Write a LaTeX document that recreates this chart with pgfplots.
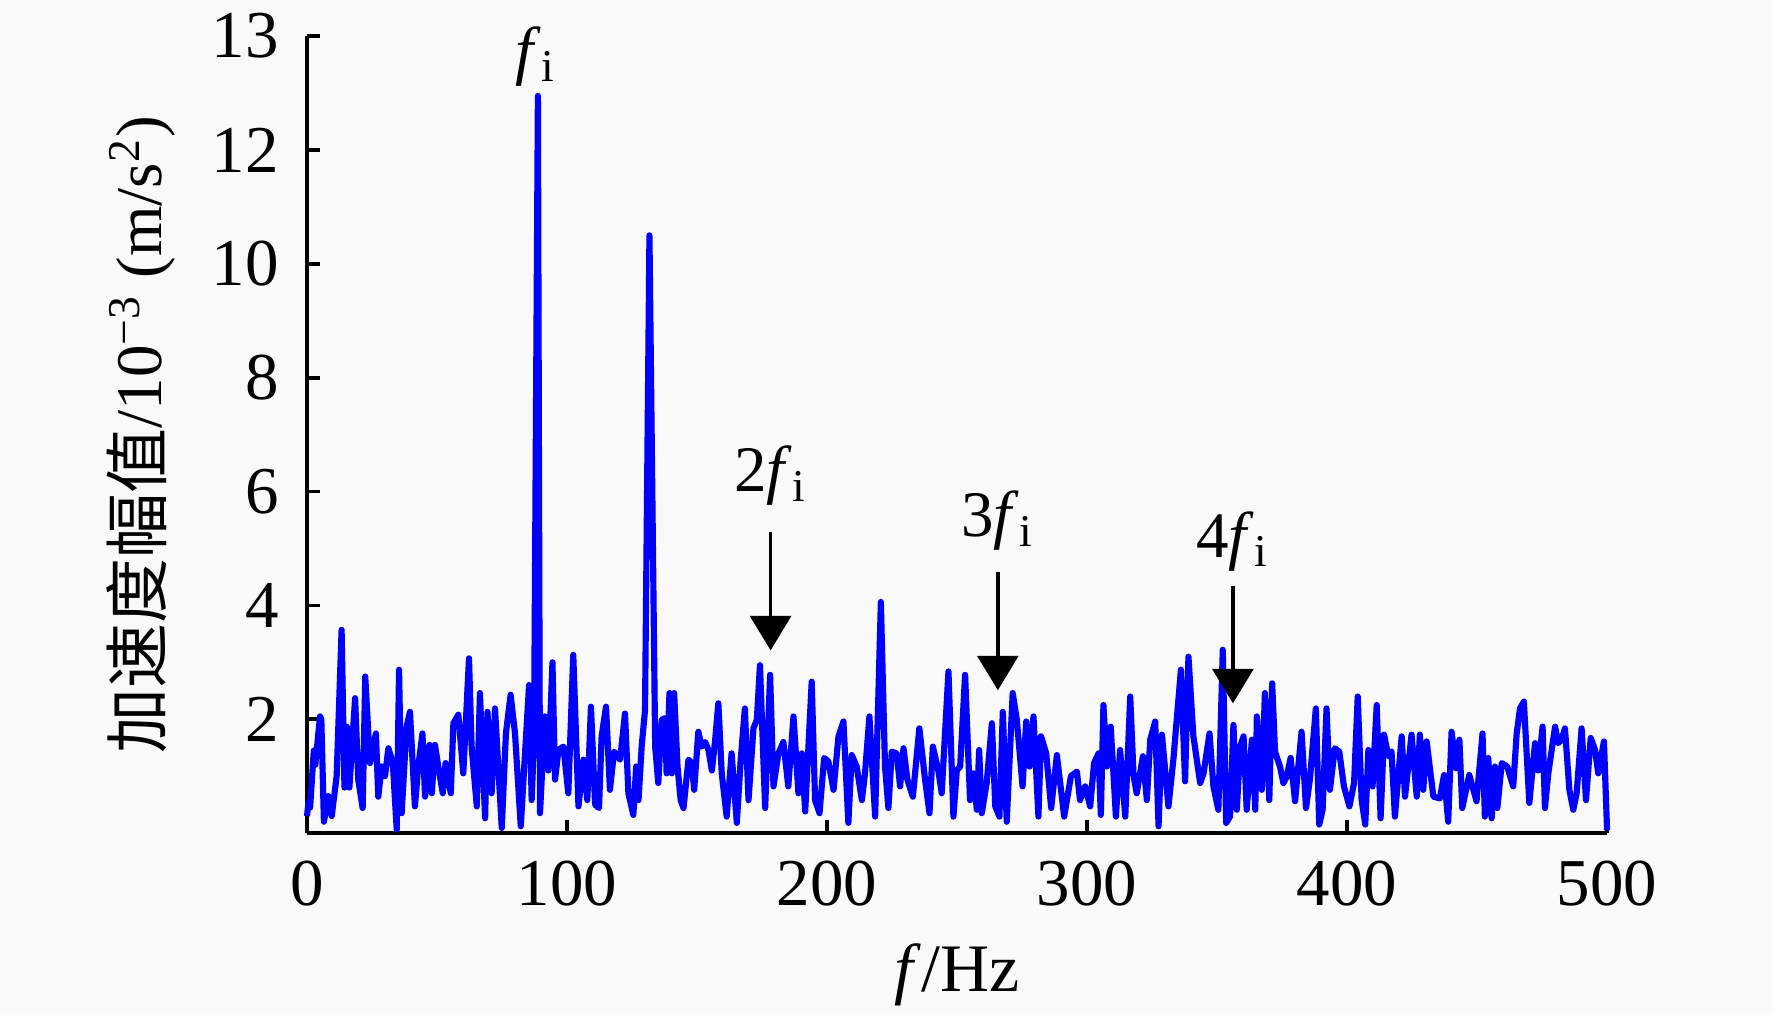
\documentclass[border=0pt]{standalone}
\usepackage{fontspec}
\setmainfont{Liberation Serif}
\newfontfamily\cjk{Noto Sans CJK SC}
\usepackage{pgfplots}
\pgfplotsset{compat=1.18}
\usetikzlibrary{arrows.meta}
\definecolor{bg}{RGB}{249,249,249}
\definecolor{specblue}{RGB}{0,0,255}
\pgfplotstableread{
x y
0 0.3
0.6 0.55
1.2 0.45
2.6 1.45
3.2 1.2
5.0 2.05
5.5 2.0
6.5 0.2
8.2 0.65
9.5 0.3
11.4 1.0
13.3 3.57
14.4 0.8
15.3 1.87
16.3 0.8
18.5 2.37
19.7 0.94
21.4 0.44
22.4 2.75
24.2 1.23
26.5 1.75
27.4 0.64
28.7 1.17
30.0 1.0
31.3 1.49
33.0 1.23
34.5 0.06
35.4 2.87
36.4 0.35
38.3 1.87
39.6 2.13
41.5 0.47
42.8 1.17
44.4 1.75
45.4 0.64
47.1 1.55
48.0 0.7
49.2 1.55
50.5 1.17
52.2 0.7
53.3 1.23
55.3 0.7
56.3 1.93
58.2 2.08
60.1 1.05
62.3 3.07
63.3 1.52
65.3 0.47
66.5 2.46
68.5 0.26
69.4 2.13
71.0 0.7
72.3 2.19
74.9 0.09
76.5 1.75
78.3 2.43
80.0 1.75
82.2 0.12
85.4 2.6
86.4 0.58
87.3 1.64
88.8 12.95
89.6 0.35
91.5 2.05
92.8 1.1
94.4 3.0
95.4 0.94
96.7 1.46
98.6 1.52
100.5 0.7
102.4 3.13
104.4 0.47
106.3 1.29
107.8 0.58
109.2 2.22
110.8 0.5
112.3 0.44
113.3 1.7
115.0 2.22
116.5 0.76
118.1 1.43
120.4 1.29
122.3 2.1
123.6 0.7
125.5 0.32
126.6 1.17
127.5 0.58
128.7 1.52
130.0 2.16
131.7 10.5
133.9 1.52
135.1 0.88
136.4 1.99
137.7 2.02
138.3 1.05
139.4 2.46
140.3 1.05
141.2 2.46
142.5 1.17
143.7 0.58
144.8 0.44
146.7 1.29
148.0 1.23
148.9 0.76
150.5 1.78
151.8 1.52
153.1 1.6
154.4 1.46
155.7 1.1
156.9 1.6
158.2 2.28
159.5 1.05
161.4 0.29
163.3 1.4
165.3 0.18
166.8 1.29
168.4 2.19
169.8 0.58
171.7 1.84
173.0 1.99
174.2 2.95
176.2 0.44
178.1 2.78
179.4 0.82
181.3 1.4
183.2 1.6
185.1 0.82
187.1 2.05
189.0 0.7
190.3 1.4
191.6 0.38
194.1 2.66
195.4 0.58
197.1 0.35
198.9 1.32
200.5 1.26
202.5 0.76
204.4 1.7
206.3 1.96
208.2 0.18
209.5 1.37
211.4 1.17
213.4 0.58
214.6 1.05
216.3 2.05
218.5 0.29
220.7 4.06
222.3 1.17
223.6 0.44
224.9 1.43
226.8 1.4
228.1 0.82
229.4 1.49
230.9 0.94
233.0 0.64
235.5 1.84
237.7 0.94
239.4 0.35
240.7 1.52
242.8 1.1
244.1 0.7
246.7 2.84
248.6 0.29
249.9 1.1
251.2 1.17
253.1 2.78
255.0 0.58
256.3 1.05
257.6 0.41
258.5 1.46
259.5 0.35
261.4 0.88
263.4 1.93
264.7 0.47
266.3 0.29
267.6 2.13
269.1 0.2
271.4 2.46
273.0 1.99
275.2 0.82
276.6 1.96
277.9 1.17
279.4 2.05
281.3 0.29
282.3 1.7
284.3 1.4
286.2 0.44
288.4 1.37
291.2 0.29
293.8 1.0
296.1 1.08
297.3 0.58
299.3 0.82
301.2 0.47
302.7 1.23
304.4 1.4
305.3 0.32
306.3 2.25
307.6 1.17
309.1 1.87
311.1 0.29
312.7 1.46
314.7 0.29
316.6 2.4
317.9 1.0
319.1 0.7
321.5 1.35
323.0 0.58
324.3 1.64
326.2 1.96
327.5 0.12
328.8 1.73
331.3 0.47
333.2 1.29
336.1 2.87
337.7 0.91
339.0 3.1
340.9 1.7
343.5 0.88
344.8 1.05
347.1 1.75
348.6 0.82
350.5 0.41
352.2 3.22
353.5 0.18
355.0 0.29
356.3 1.9
357.6 0.41
358.9 1.52
360.2 1.7
361.4 0.41
363.4 1.64
364.7 0.41
365.3 2.05
367.2 0.76
368.4 2.46
370.1 0.58
371.2 2.63
372.3 1.43
374.2 1.17
375.5 0.88
376.8 0.99
378.3 1.32
380.0 0.56
382.5 1.78
384.2 0.44
385.7 0.94
388.0 2.19
389.3 0.15
390.6 0.41
392.1 2.19
393.4 0.76
395.3 1.49
397.0 1.43
398.8 0.82
400.9 0.47
402.7 0.88
404.1 2.4
405.6 0.58
407.0 0.15
408.2 1.46
409.8 0.82
411.4 2.25
412.9 0.26
414.2 1.73
415.9 1.35
417.1 1.43
418.4 0.29
421.0 1.7
422.3 0.64
424.8 1.73
426.8 0.64
428.0 1.73
429.3 0.76
430.6 1.61
433.2 0.64
435.7 0.61
437.3 1.02
438.9 0.2
440.2 1.78
441.9 1.14
443.2 1.64
444.3 0.44
447.0 1.02
449.8 0.56
452.1 1.75
453.0 0.29
454.3 1.32
455.6 0.26
456.9 1.17
457.8 0.44
459.5 1.23
461.6 1.17
463.9 0.82
465.2 1.73
466.5 2.19
468.0 2.31
470.1 0.53
472.3 1.58
473.5 1.1
475.2 1.87
476.1 0.44
477.4 1.05
480.0 1.87
481.2 1.58
482.5 1.64
483.8 1.84
485.5 0.76
487.0 0.41
488.3 0.7
490.2 1.84
491.9 0.58
493.7 1.67
495.4 1.46
496.6 1.05
498.8 1.61
500.0 0.05
}\spectrum
\begin{document}
\begin{tikzpicture}
\fill[bg] (-62.37pt,-36.77pt) rectangle (297.6pt,169.24pt);
\useasboundingbox (-62.37pt,-36.77pt) rectangle (297.6pt,169.24pt);
\begin{axis}[
  at={(0pt,0pt)}, anchor=south west,
  scale only axis, width=264.1pt, height=161.9pt,
  xmin=0, xmax=500, ymin=0, ymax=14,
  axis lines=left,
  axis line style={-, line width=0.75pt, black},
  tick style={line width=0.75pt, black},
  tick align=inside, major tick length=2.6pt,
  xtick={0,100,200,300,400,500},
  ytick={2,4,6,8,10,12,14},
  yticklabels={2,4,6,8,10,12,13},
  /pgf/number format/assume math mode=true,
  tick label style={font=\fontsize{13.6pt}{15pt}\selectfont},
  xticklabel style={yshift=-2.2pt},
  yticklabel style={xshift=-2.2pt},
  clip=false,
  xlabel={\textit{f}/Hz},
  ylabel={{\cjk 加速度幅值}/10\textsuperscript{−3} (m/s\textsuperscript{2})},
  every axis x label/.style={at={(axis description cs:0.5,-0.178)}, anchor=center, font=\fontsize{13.8pt}{16pt}\selectfont},
  every axis y label/.style={at={(axis description cs:-0.128,0.5)}, rotate=90, anchor=center, font=\fontsize{13.2pt}{16pt}\selectfont},
]
\addplot[specblue, line width=1.25pt, line join=round, mark=none] table[x=x,y=y] {\spectrum};
\node[font=\fontsize{13.2pt}{16pt}\selectfont] at (axis cs:88,13.65) {\textit{f}\textsubscript{i}};
\node[font=\fontsize{13.2pt}{16pt}\selectfont] at (axis cs:178.3,6.28) {2\textit{f}\textsubscript{i}};
\node[font=\fontsize{13.2pt}{16pt}\selectfont] at (axis cs:265.7,5.49) {3\textit{f}\textsubscript{i}};
\node[font=\fontsize{13.2pt}{16pt}\selectfont] at (axis cs:356.1,5.13) {4\textit{f}\textsubscript{i}};
\draw[line width=0.75pt, -{Triangle[width=8.3pt,length=7pt]}] (axis cs:178.3,5.29) -- (axis cs:178.3,3.21);
\draw[line width=0.75pt, -{Triangle[width=8.3pt,length=7pt]}] (axis cs:265.7,4.59) -- (axis cs:265.7,2.51);
\draw[line width=0.75pt, -{Triangle[width=8.3pt,length=7pt]}] (axis cs:356.1,4.34) -- (axis cs:356.1,2.28);
\end{axis}
\end{tikzpicture}
\end{document}
